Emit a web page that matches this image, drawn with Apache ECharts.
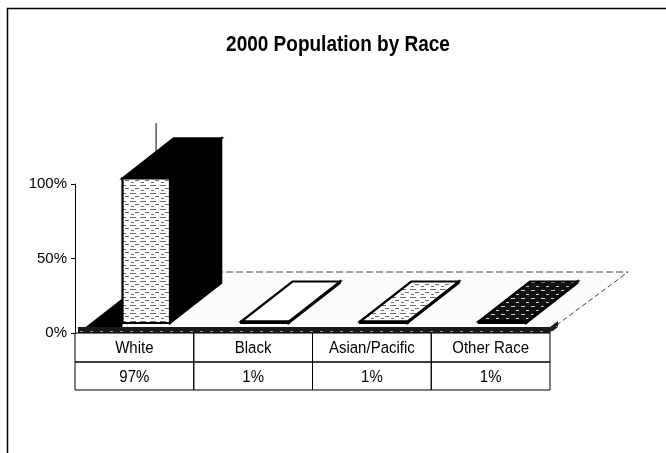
<!DOCTYPE html>
<html>
<head>
<meta charset="utf-8">
<script src="https://cdn.jsdelivr.net/npm/echarts@6/dist/echarts.min.js"></script>
<style>
  html, body { margin: 0; padding: 0; background: #fff; }
  #chart { width: 666px; height: 453px; }
</style>
</head>
<body>
<div id="chart"></div>
<script>
// Share of the 2000 population by race (percent)
const categories = ['White', 'Black', 'Asian/Pacific', 'Other Race'];
const shares = [97, 1, 1, 1];
const yTicks = [0, 50, 100];

const FONT = '"Liberation Sans", Arial, sans-serif';

// Oblique projection used for the pseudo-3D columns and floor
const DEPTH_SLOPE = 1.28;   // horizontal shift per pixel of depth
const BAR_DEPTH = 40;
const FLOOR_DEPTH = 61;
const BAR_INSET = 10;       // columns stand a little behind the floor's front edge

// Small hatch textures, like printed fill patterns
function hatch(bg, fg, marks) {
  const c = document.createElement('canvas');
  c.width = 10; c.height = 8;
  const g = c.getContext('2d');
  g.fillStyle = bg; g.fillRect(0, 0, 10, 8);
  g.fillStyle = fg;
  marks.forEach(m => g.fillRect(m[0], m[1], m[2], 1));
  return { image: c, repeat: 'repeat' };
}
const lightHatch = hatch('#ffffff', '#6a6a6a', [[0, 1, 6, 0], [5, 4, 4, 0], [1, 6, 3, 0]]);
const darkHatch = hatch('#111111', '#d0d0d0', [[1, 2, 4, 0], [6, 6, 3, 0]]);
const bandHatch = hatch('#1a1a1a', '#9a9a9a', [[0, 3, 3, 0], [6, 6, 2, 0]]);

// Face fills per column: front, right side, top
const faceFills = [
  { front: lightHatch, side: '#000000', top: '#000000' },
  { front: '#ffffff', side: '#000000', top: '#ffffff' },
  { front: lightHatch, side: '#000000', top: lightHatch },
  { front: darkHatch, side: '#000000', top: darkHatch }
];

const chart = echarts.init(document.getElementById('chart'), null, { renderer: 'canvas' });

function renderFloor(params, api) {
  const cs = params.coordSys;
  const y0 = cs.y + cs.height;
  const band = api.size([1, 0])[0];
  const fl = [cs.x + 3, y0];
  const fr = [cs.x + cs.width, y0];
  const br = [fr[0] + FLOOR_DEPTH * DEPTH_SLOPE, y0 - FLOOR_DEPTH];
  const bl = [fl[0] + FLOOR_DEPTH * DEPTH_SLOPE, y0 - FLOOR_DEPTH];
  const firstBarX = api.coord([0, 0])[0] - 0.1 * band;
  const triTop = y0 - (firstBarX - fl[0]) / DEPTH_SLOPE;
  return {
    type: 'group',
    children: [
      { type: 'polygon', shape: { points: [fl, fr, br, bl] }, style: { fill: '#fcfcfc' } },
      { type: 'line', shape: { x1: bl[0], y1: bl[1], x2: br[0], y2: br[1] },
        style: { stroke: '#444', lineWidth: 1, lineDash: [7, 3] } },
      { type: 'line', shape: { x1: fr[0], y1: fr[1] - 3, x2: br[0], y2: br[1] },
        style: { stroke: '#444', lineWidth: 1, lineDash: [5, 3] } },
      // back wall corner edge
      { type: 'line', shape: { x1: bl[0], y1: bl[1], x2: bl[0], y2: cs.y - FLOOR_DEPTH },
        style: { stroke: '#000', lineWidth: 1 } },
      // dark floor corner left of the first column
      { type: 'polygon', shape: { points: [fl, [firstBarX, triTop], [firstBarX, y0]] },
        style: { fill: '#000' } },
      // floor thickness along the front edge
      { type: 'rect', shape: { x: fl[0], y: y0 - 6, width: fr[0] - fl[0], height: 6 },
        style: { fill: bandHatch } },
      { type: 'polygon', shape: { points: [[fr[0], y0 - 6], [fr[0], y0], [fr[0] + 8, y0 - 6], [fr[0] + 8, y0 - 12]] },
        style: { fill: bandHatch } }
    ]
  };
}

function renderColumn(params, api) {
  const i = api.value(0);
  const v = api.value(1);
  const base = api.coord([i, 0]);
  const peak = api.coord([i, v]);
  const band = api.size([1, 0])[0];
  const h = base[1] - peak[1];
  const x = base[0] - 0.1 * band;
  const w = 0.4 * band;
  const yb = base[1] - BAR_INSET;
  const yt = yb - h;
  const dx = BAR_DEPTH * DEPTH_SLOPE, dy = -BAR_DEPTH;
  const f = faceFills[params.dataIndex];
  const stroke = { stroke: '#000', lineWidth: 2.2, lineJoin: 'miter' };
  return {
    type: 'group',
    children: [
      { type: 'polygon',
        shape: { points: [[x + w, yb], [x + w + dx, yb + dy], [x + w + dx, yt + dy], [x + w, yt]] },
        style: Object.assign({ fill: f.side }, stroke) },
      { type: 'polygon',
        shape: { points: [[x, yt], [x + w, yt], [x + w + dx, yt + dy], [x + dx, yt + dy]] },
        style: Object.assign({ fill: f.top }, stroke) },
      { type: 'rect', shape: { x: x, y: yt, width: w, height: Math.max(h, 0.5) },
        style: Object.assign({ fill: f.front }, stroke) }
    ]
  };
}

function renderTableColumn(params, api) {
  const cs = params.coordSys;
  const i = api.value(0);
  const v = api.value(1);
  const band = api.size([1, 0])[0];
  const cx = api.coord([i, 0])[0];
  const left = cx - band / 2;
  const y0 = cs.y + cs.height;
  const rowH = [29, 28];
  const line = { stroke: '#000', lineWidth: 1, fill: null };
  const txt = (t, y) => ({
    type: 'text', x: cx, y: y, scaleY: 1.1,
    style: { text: t, x: 0, y: 0, align: 'center', verticalAlign: 'middle',
             fontFamily: FONT, fontSize: 15, fill: '#000' }
  });
  return {
    type: 'group',
    children: [
      { type: 'rect', shape: { x: left, y: y0, width: band, height: rowH[0] }, style: line },
      { type: 'rect', shape: { x: left, y: y0 + rowH[0], width: band, height: rowH[1] }, style: line },
      txt(categories[i], y0 + rowH[0] / 2 + 1),
      txt(v + '%', y0 + rowH[0] + rowH[1] / 2 + 1)
    ]
  };
}

const points = shares.map((v, i) => [i, v]);

chart.setOption({
  animation: false,
  backgroundColor: '#ffffff',
  grid: { left: 75, top: 184, width: 475, height: 149, outerBoundsMode: 'none' },
  xAxis: { type: 'category', data: categories, show: false },
  yAxis: {
    type: 'value', min: yTicks[0], max: yTicks[yTicks.length - 1], interval: yTicks[1] - yTicks[0],
    axisLine: { show: true, lineStyle: { color: '#000', width: 1 } },
    axisTick: { show: true, length: 4, lineStyle: { color: '#000' } },
    splitLine: { show: false },
    axisLabel: { formatter: '{value}%', color: '#000', fontFamily: FONT, fontSize: 15, margin: 8 }
  },
  graphic: [
    { type: 'polyline', shape: { points: [[7.5, 453], [7.5, 8.5], [666, 8.5]] },
      style: { stroke: '#000', lineWidth: 1.5, fill: null } },
    { type: 'text', x: 338, y: 45, scaleY: 1.2,
      style: { text: '2000 Population by Race', x: 0, y: 0, align: 'center', verticalAlign: 'middle',
               fontFamily: FONT, fontWeight: 'bold', fontSize: 19, fill: '#000' } }
  ],
  series: [
    { type: 'custom', name: 'floor', renderItem: renderFloor, data: [[0, 0]], clip: false, z: 1, silent: true },
    { type: 'custom', name: 'Population share', renderItem: renderColumn, data: points, clip: false, z: 2 },
    { type: 'custom', name: 'table', renderItem: renderTableColumn, data: points, clip: false, z: 3, silent: true }
  ]
});
</script>
</body>
</html>
